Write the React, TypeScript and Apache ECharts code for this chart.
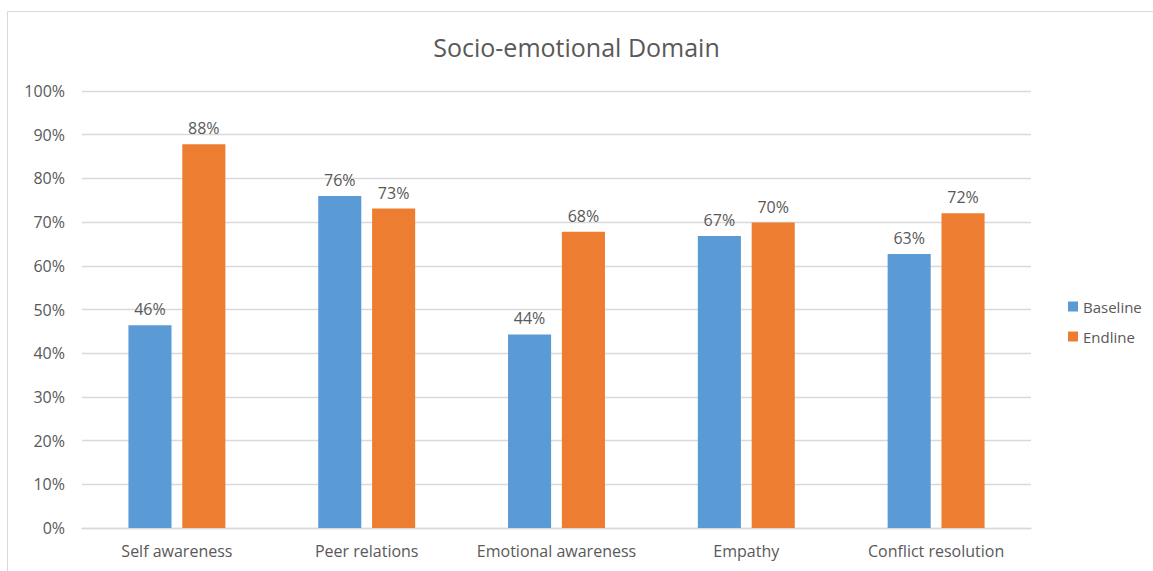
import React, { useEffect, useRef } from "react";
import * as echarts from "echarts";

const categories = ["Self awareness", "Peer relations", "Emotional awareness", "Empathy", "Conflict resolution"];
const baseline = [0.464, 0.76, 0.443, 0.668, 0.627];
const endline = [0.878, 0.731, 0.678, 0.699, 0.72];
const yTicks = [0, 0.1, 0.2, 0.3, 0.4, 0.5, 0.6, 0.7, 0.8, 0.9, 1.0];

const FONT = "'Open Sans', 'Noto Sans', sans-serif";
const TEXT = "#595959";

export default function App() {
  const ref = useRef<HTMLDivElement>(null);
  useEffect(() => {
    document.body.style.margin = "0";
    const chart = echarts.init(ref.current!, null, { renderer: "svg" });
    const pct = (v: number) => Math.round(v * 100) + "%";
    chart.setOption({
      animation: false,
      backgroundColor: "#fff",
      textStyle: { fontFamily: FONT },
      title: {
        text: "Socio-emotional Domain",
        left: "center",
        top: 29,
        textStyle: { fontFamily: FONT, fontSize: 25, fontWeight: "normal", color: TEXT },
      },
      graphic: [
        {
          type: "rect",
          shape: { x: 7.5, y: 11.5, width: 1300, height: 700 },
          style: { fill: "none", stroke: "#d9d9d9", lineWidth: 1 },
          silent: true,
          z: -1,
        },
      ],
      legend: {
        orient: "vertical",
        left: 1063,
        top: 294,
        itemWidth: 10,
        itemHeight: 10,
        itemGap: 15,
        itemStyle: { borderWidth: 0 },
        icon: "rect",
        textStyle: { fontFamily: FONT, fontSize: 15, color: TEXT },
        data: ["Baseline", "Endline"],
      },
      grid: { left: 82, right: 122, top: 91, bottom: 43, containLabel: false },
      xAxis: {
        type: "category",
        data: categories,
        axisLine: { lineStyle: { color: "#d9d9d9", width: 1.3 } },
        axisTick: { show: false },
        axisLabel: { fontFamily: FONT, fontSize: 16, color: TEXT, margin: 15, interval: 0 },
      },
      yAxis: {
        type: "value",
        min: 0,
        max: 1,
        interval: 0.1,
        axisLine: { show: false },
        axisTick: { show: false },
        splitLine: { lineStyle: { color: "#d9d9d9", width: 1.3 } },
        axisLabel: {
          fontFamily: FONT,
          fontSize: 16,
          color: TEXT,
          margin: 17,
          formatter: (v: number) => {
            const t = yTicks.find((x) => Math.abs(x - v) < 1e-6);
            return t === undefined ? "" : Math.round(t * 100) + "%";
          },
        },
      },
      series: [
        {
          name: "Baseline",
          type: "bar",
          data: baseline,
          barWidth: "22.7%",
          barGap: "25%",
          itemStyle: { color: "#5b9bd5" },
          label: {
            show: true,
            position: "top",
            distance: 8,
            fontFamily: FONT,
            fontSize: 16,
            color: TEXT,
            formatter: (p: any) => pct(p.value),
          },
        },
        {
          name: "Endline",
          type: "bar",
          data: endline,
          barWidth: "22.7%",
          itemStyle: { color: "#ed7d31" },
          label: {
            show: true,
            position: "top",
            distance: 8,
            fontFamily: FONT,
            fontSize: 16,
            color: TEXT,
            formatter: (p: any) => pct(p.value),
          },
        },
      ],
    });
    return () => chart.dispose();
  }, []);
  return <div ref={ref} style={{ position: "absolute", left: 0, top: 0, width: 1153, height: 571 }} />;
}
